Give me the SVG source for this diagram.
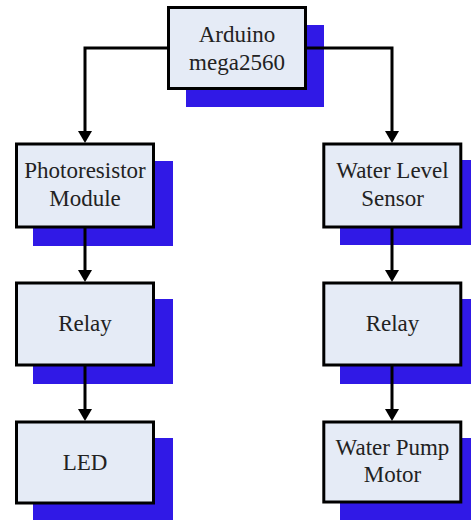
<svg xmlns="http://www.w3.org/2000/svg" width="471" height="520" viewBox="0 0 471 520">
  <style>
    .shadow { fill: #3019e6; stroke: none; }
    .box { fill: #e5ebf6; stroke: #000; stroke-width: 3; }
    .label { font-family: "Liberation Serif", "Times New Roman", serif; font-size: 23px; fill: #222; text-anchor: middle; }
    .conn { fill: none; stroke: #000; stroke-width: 3; }
  </style>
  <defs>
    <marker id="arrow" viewBox="0 0 12 14" refX="6" refY="7" markerWidth="12" markerHeight="14" markerUnits="userSpaceOnUse" orient="auto">
      <path d="M0,0 L12,7 L0,14 Z" fill="#000"/>
    </marker>
  </defs>
  <rect width="471" height="520" fill="#fff"/>

  <g id="arduino">
    <rect class="shadow" x="186" y="25" width="138" height="82"/>
    <rect class="box" x="168.5" y="7.5" width="137" height="81"/>
    <text class="label" x="237" y="42">Arduino</text>
    <text class="label" x="237" y="70">mega2560</text>
  </g>

  <g id="photoresistor">
    <rect class="shadow" x="33" y="161" width="140" height="85"/>
    <rect class="box" x="16.5" y="144" width="137" height="83"/>
    <text class="label" x="85" y="178">Photoresistor</text>
    <text class="label" x="85" y="206">Module</text>
  </g>

  <g id="water-level">
    <rect class="shadow" x="340" y="160" width="140" height="85"/>
    <rect class="box" x="323.8" y="144" width="137" height="83"/>
    <text class="label" x="392.5" y="178">Water Level</text>
    <text class="label" x="392.5" y="206">Sensor</text>
  </g>

  <g id="relay-left">
    <rect class="shadow" x="33" y="299" width="140" height="85"/>
    <rect class="box" x="16.5" y="283" width="137" height="82"/>
    <text class="label" x="85" y="331">Relay</text>
  </g>

  <g id="relay-right">
    <rect class="shadow" x="340" y="299" width="140" height="85"/>
    <rect class="box" x="323.8" y="283" width="137" height="82"/>
    <text class="label" x="392.5" y="331">Relay</text>
  </g>

  <g id="led">
    <rect class="shadow" x="33" y="438" width="140" height="90"/>
    <rect class="box" x="16.5" y="422" width="137" height="81"/>
    <text class="label" x="85" y="470">LED</text>
  </g>

  <g id="water-pump">
    <rect class="shadow" x="340" y="438" width="140" height="90"/>
    <rect class="box" x="323.8" y="422" width="137" height="80"/>
    <text class="label" x="392.5" y="455">Water Pump</text>
    <text class="label" x="392.5" y="482">Motor</text>
  </g>

  <g id="connectors">
    <path class="conn" d="M168,48 H85 V137" marker-end="url(#arrow)"/>
    <path class="conn" d="M306,48 H392 V137" marker-end="url(#arrow)"/>
    <path class="conn" d="M85,228 V276" marker-end="url(#arrow)"/>
    <path class="conn" d="M392,228 V276" marker-end="url(#arrow)"/>
    <path class="conn" d="M85,366 V415" marker-end="url(#arrow)"/>
    <path class="conn" d="M392,366 V415" marker-end="url(#arrow)"/>
  </g>
</svg>
